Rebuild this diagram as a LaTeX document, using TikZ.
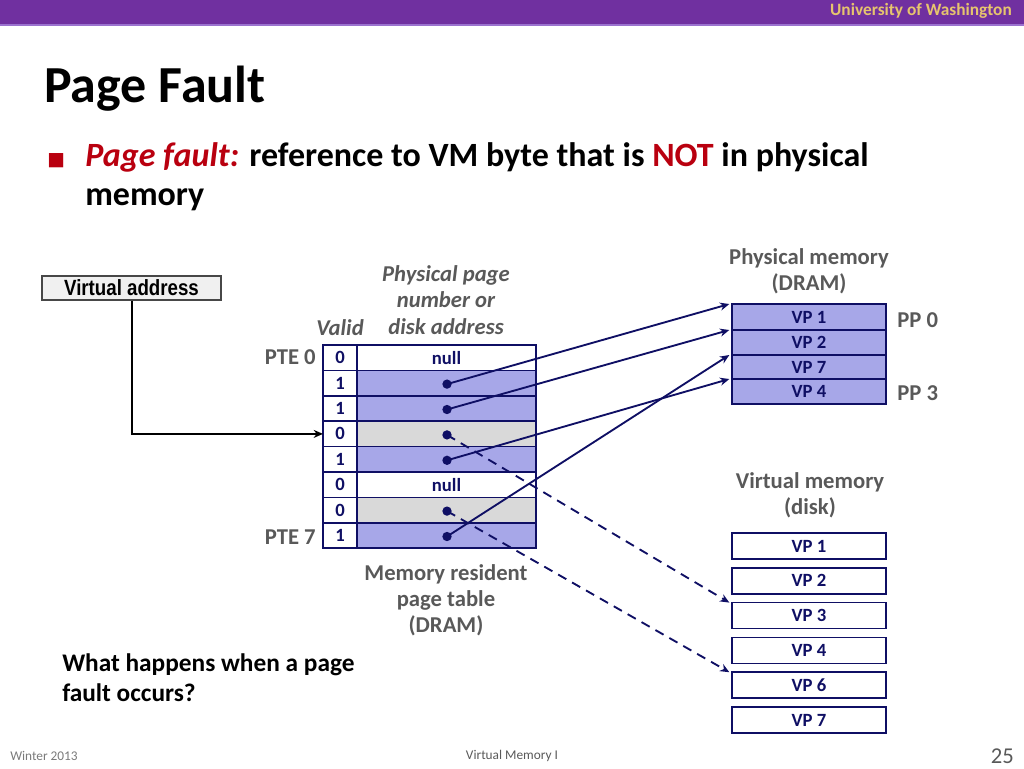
\documentclass[tikz,border=0pt]{standalone}
\usepackage{fontspec}
\setmainfont{Carlito}
\newfontfamily\arialfont{Liberation Sans}
\newfontfamily\symfont{DejaVu Sans}
\usetikzlibrary{arrows.meta}
\definecolor{uwpurple}{RGB}{112,48,160}
\definecolor{uwline}{RGB}{155,114,207}
\definecolor{uwgold}{RGB}{230,196,110}
\definecolor{navy}{RGB}{15,15,100}
\definecolor{cellblue}{RGB}{167,167,232}
\definecolor{cellgray}{RGB}{217,217,217}
\definecolor{labgray}{RGB}{89,89,89}
\definecolor{notred}{RGB}{185,0,15}
\tikzset{
  cell/.style={draw=navy, line width=1.3pt, inner sep=0pt, outer sep=0pt, minimum height=19.05pt, font=\fontsize{14}{14}\selectfont\bfseries, text=navy},
  vcell/.style={cell, fill=white, minimum width=25.5pt},
  pcell/.style={cell, minimum width=134.25pt},
  memcell/.style={draw=navy, line width=1.3pt, inner sep=0pt, outer sep=0pt, minimum width=115.5pt, font=\fontsize{14}{14}\selectfont\bfseries, text=navy},
  lab/.style={text=labgray, font=\fontsize{17}{19.8}\selectfont\bfseries, align=center, inner sep=0pt},
  dotn/.style={circle, fill=navy, inner sep=0pt, minimum size=7pt},
  ptr/.style={draw=navy, line width=1.4pt, -{Stealth[length=7pt,width=6pt]}},
  dptr/.style={ptr, dash pattern=on 7pt off 5pt},
}
\begin{document}
\begin{tikzpicture}[x=0.75pt,y=-0.75pt]
\useasboundingbox (0,0) rectangle (1024,768);
% header
\fill[uwpurple] (0,0) rectangle (1024,24);
\draw[uwline, line width=1.5pt] (0,24.5) -- (1024,24.5);
\node[anchor=east, text=uwgold, font=\fontsize{13}{13}\selectfont\bfseries, inner sep=0pt] (uw) at (1012,11) {University of Washington};
% title
\node[anchor=base west, font=\fontsize{39}{39}\selectfont\bfseries, inner sep=0pt] (title) at (44,102) {Page Fault};
\node[anchor=base west, text=notred, font=\symfont\fontsize{14}{14}\selectfont, inner sep=0pt] (bul) at (47,165) {■};
\node[anchor=base west, font=\fontsize{25.5}{30}\selectfont\bfseries, align=left, inner sep=0pt] (b1) at (85,166) {\textcolor{notred}{\itshape Page fault:} reference to VM byte that is \textcolor{notred}{NOT} in physical};
\node[anchor=base west, font=\fontsize{25.5}{30}\selectfont\bfseries, inner sep=0pt] (b2) at (85,205) {memory};
% virtual address
\node[draw=labgray!80!black, fill=black!6, line width=0.8pt, minimum width=134.25pt, minimum height=18pt, inner sep=0pt, font=\arialfont\fontsize{16.5}{16.5}\selectfont\bfseries] (va) at (131.5,288) {\scalebox{0.85}[1]{Virtual address}};
% page table
\def\rh{25.4}
\foreach \i/\v/\f/\t in {0/0/white/null,1/1/cellblue/,2/1/cellblue/,3/0/cellgray/,4/1/cellblue/,5/0/white/null,6/0/cellgray/,7/1/cellblue/}{
  \node[vcell] (v\i) at (340,{345+\rh*(\i+0.5)}) {\v};
  \node[pcell, fill=\f] (p\i) at (446.5,{345+\rh*(\i+0.5)}) {\t};
}
\foreach \i in {1,2,3,4,6,7}{
  \node[dotn] (d\i) at (447,{345+\rh*(\i+0.5)+1}) {};
}
\node[lab, anchor=east] (pte0) at (316,357) {PTE 0};
\node[lab, anchor=east] (pte7) at (316,537) {PTE 7};
\node[lab, anchor=base, font=\fontsize{17}{17}\selectfont\bfseries\itshape] (valid) at (340,335) {Valid};
\node[lab, anchor=base, font=\fontsize{17}{19.8}\selectfont\bfseries\itshape] (ppn) at (446,334) {Physical page\\number or\\disk address};
\node[lab, anchor=north] (mrpt) at (446,564) {Memory resident\\page table\\(DRAM)};
% physical memory
\node[lab] (pmlab) at (809,271) {Physical memory\\(DRAM)};
\foreach \i/\t/\yt/\yb in {1/VP 1/304/330,2/VP 2/330/355,3/VP 7/355/379,4/VP 4/379/404}{
  \node[memcell, fill=cellblue, minimum height={(\yb-\yt)*0.75pt}] (pm\i) at (809,{(\yt+\yb)/2}) {\t};
}
\node[lab, anchor=west] (pp0) at (897,320) {PP 0};
\node[lab, anchor=west] (pp3) at (897,393) {PP 3};
% virtual memory (disk)
\node[lab] (vmlab) at (810,495) {Virtual memory\\(disk)};
\foreach \i/\t in {0/VP 1,1/VP 2,2/VP 3,3/VP 4,4/VP 6,5/VP 7}{
  \node[memcell, fill=white, minimum height=19.5pt] (dk\i) at (809,{546+34.8*\i}) {\t};
}
% connectors
\draw[line width=1.5pt, -{Stealth[length=7pt,width=6pt]}] (va.south) |- (v3.west);
\draw[ptr] (d1.center) -- ([xshift=-2pt]pm1.north west);
\draw[ptr] (d2.center) -- ([xshift=-2pt]pm2.north west);
\draw[ptr] (d4.center) -- ([xshift=-2pt]pm4.north west);
\draw[ptr] (d7.center) -- ([xshift=-2pt]pm3.north west);
\draw[dptr] (d3.center) -- ([xshift=-2pt]dk2.north west);
\draw[dptr] (d6.center) -- ([xshift=-2pt]dk4.north west);
% question
\node[anchor=base west, font=\fontsize{19}{22.5}\selectfont\bfseries, align=left, inner sep=0pt] (q) at (62,701) {What happens when a page\\fault occurs?};
% footer
\node[anchor=west, text=labgray!80, font=\fontsize{10}{10}\selectfont, inner sep=0pt] (f1) at (10,756) {Winter 2013};
\node[text=labgray, font=\fontsize{10}{10}\selectfont, inner sep=0pt] (f2) at (512,756) {Virtual Memory I};
\node[anchor=east, text=labgray, font=\fontsize{17}{17}\selectfont, inner sep=0pt] (f3) at (1014,756) {25};
\end{tikzpicture}
\end{document}
